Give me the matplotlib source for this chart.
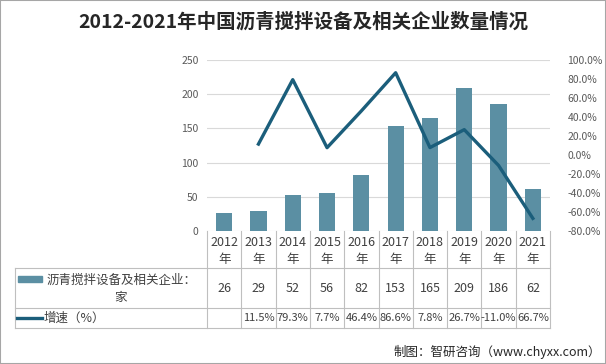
import matplotlib
matplotlib.use("Agg")
import matplotlib.pyplot as plt
from matplotlib.patches import Rectangle
from matplotlib.lines import Line2D
import matplotlib.transforms as mtransforms

plt.rcParams['font.family'] = ['Noto Sans CJK SC', 'DejaVu Sans']

years = ["2012", "2013", "2014", "2015", "2016", "2017", "2018", "2019", "2020", "2021"]
counts = [26, 29, 52, 56, 82, 153, 165, 209, 186, 62]
growth = [None, 11.5, 79.3, 7.7, 46.4, 86.6, 7.8, 26.7, -11.0, -66.7]
growth_labels = ["", "11.5%", "79.3%", "7.7%", "46.4%", "86.6%", "7.8%", "26.7%", "-11.0%", "66.7%"]
bar_name = "沥青搅拌设备及相关企业："
bar_name2 = "家"
line_name = "增速（%）"
title = "2012-2021年中国沥青搅拌设备及相关企业数量情况"
source = "制图：智研咨询（www.chyxx.com）"

W, H = 606, 364
fig = plt.figure(figsize=(W/100, H/100), dpi=100)

def fx(px): return px / W
def fy(py): return 1 - py / H

L, R, T, B = 207, 550, 60, 231
ax = fig.add_axes([fx(L), fy(B), fx(R) - fx(L), fy(T) - fy(B)])
bar_color = "#5B8FA3"
line_color = "#1B5E7B"
tick_color = "#595959"
txt_color = "#404040"

x = list(range(len(years)))
ax.bar(x, counts, width=0.47, color=bar_color, zorder=2)
ax.set_xlim(-0.5, len(years) - 0.5)
ax.set_ylim(0, 250)
ax.set_yticks(range(0, 251, 50))
ax.grid(axis='y', color="#D9D9D9", linewidth=0.8, zorder=0)
ax.set_xticks([])
for s in ax.spines.values():
    s.set_visible(False)
ax.tick_params(axis='y', length=0, labelsize=7.5, labelcolor=tick_color, pad=6)

ax2 = ax.twinx()
gx = [i for i, g in enumerate(growth) if g is not None]
gy = [g for g in growth if g is not None]
ax2.plot(gx, gy, color=line_color, linewidth=2.4, zorder=3)
ax2.set_ylim(-80, 100)
ax2.set_yticks(range(-80, 101, 20))
ax2.set_yticklabels([f"{v:.1f}%" for v in range(-80, 101, 20)])
for s in ax2.spines.values():
    s.set_visible(False)
ax2.tick_params(axis='y', length=0, labelsize=7.5, labelcolor=tick_color, pad=12.5)

# table
trans = mtransforms.blended_transform_factory(ax.transData, fig.transFigure)
grid_c = "#BFBFBF"
tl, tr = 15, 550
rows = [231, 268, 308, 328]
for yy in rows[1:]:
    fig.add_artist(Line2D([fx(tl), fx(tr)], [fy(yy), fy(yy)], color=grid_c, lw=0.8))
fig.add_artist(Line2D([fx(tl), fx(tl)], [fy(268), fy(328)], color=grid_c, lw=0.8))
for i in range(len(years) + 1):
    xx = i - 0.5
    fig.add_artist(Line2D([xx, xx], [fy(231), fy(328)], color=grid_c, lw=0.8, transform=trans))
fs = 9
for i, y in enumerate(years):
    fig.text(i, fy(242), y, transform=trans, ha='center', va='center', fontsize=fs, color=txt_color)
    fig.text(i, fy(259), "年", transform=trans, ha='center', va='center', fontsize=fs, color=txt_color)
    fig.text(i, fy(289), str(counts[i]), transform=trans, ha='center', va='center', fontsize=fs, color=txt_color)
    fig.text(i, fy(318), growth_labels[i], transform=trans, ha='center', va='center', fontsize=8, color=txt_color)

fig.add_artist(Rectangle((fx(18), fy(282)), fx(42) - fx(18), fy(276) - fy(282), color=bar_color, transform=fig.transFigure))
fig.text(fx(47), fy(280), bar_name, ha='left', va='center', fontsize=fs, color=txt_color)
fig.text(fx(120), fy(298), bar_name2, ha='center', va='center', fontsize=fs, color=txt_color)
fig.add_artist(Line2D([fx(17), fx(42)], [fy(318), fy(318)], color=line_color, lw=2.4))
fig.text(fx(44), fy(318), line_name, ha='left', va='center', fontsize=fs, color=txt_color)

fig.text(fx(303), fy(22), title, ha='center', va='center', fontsize=14, fontweight='bold', color="#262626")
fig.text(fx(601), fy(352), source, ha='right', va='center', fontsize=9, color="#262626")

fig.add_artist(Rectangle((0, 0), 1, 1, fill=False, edgecolor="#A6A6A6", lw=1.5, transform=fig.transFigure))

fig.savefig("out.png", dpi=100)
